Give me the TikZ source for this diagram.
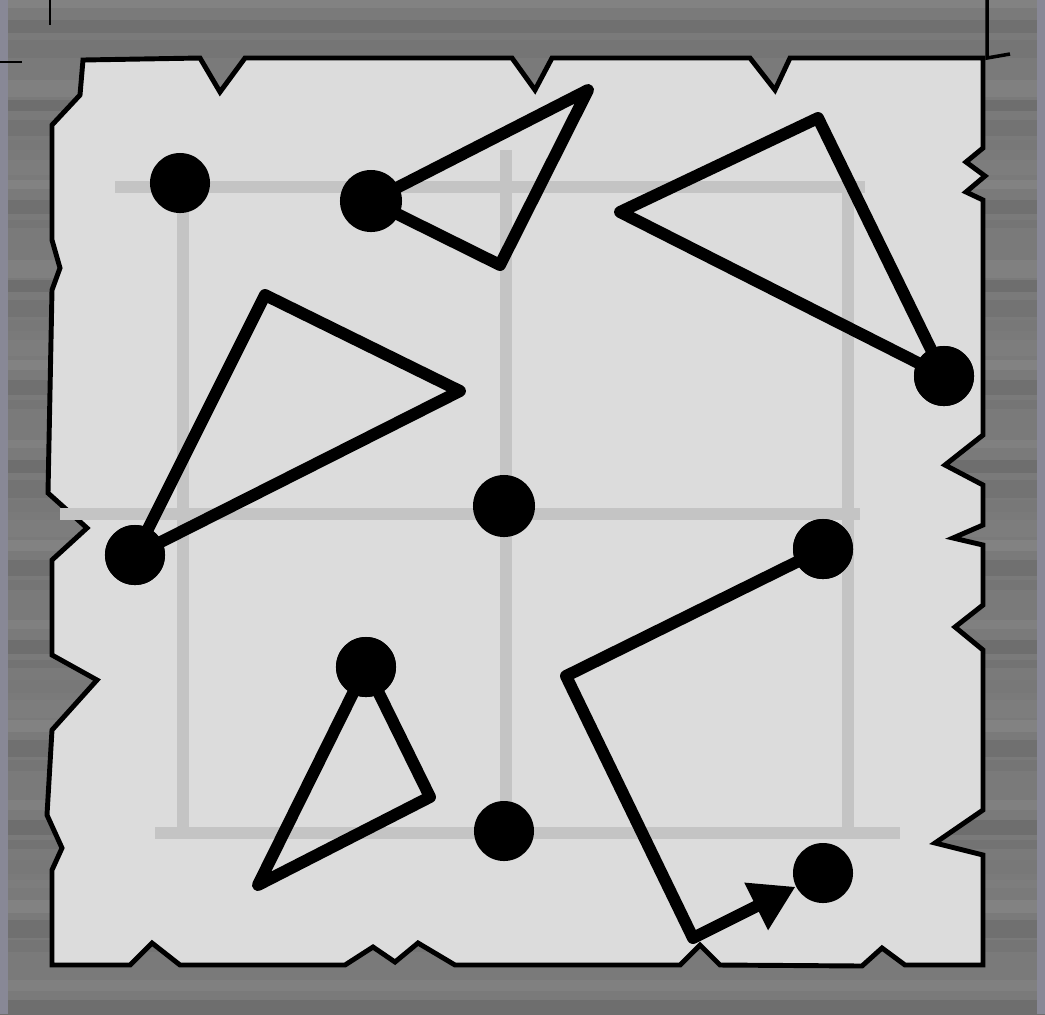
\documentclass[tikz,border=0pt]{standalone}
\usepackage{tikz}
\usetikzlibrary{arrows.meta, positioning, calc}
\usepackage{xcolor}

\definecolor{wood}{RGB}{122,122,122}
\definecolor{woodedge}{RGB}{136,136,150}
\definecolor{paper}{RGB}{220,220,220}
\definecolor{gridgray}{RGB}{196,196,196}

\tikzset{
    dot/.style={circle, fill=black, minimum size=0.6cm, inner sep=0pt},
    shapeline/.style={line width=3.4pt, line join=round, black},
    gridline/.style={line width=3.4pt, gridgray},
    tornedge/.style={fill=paper, draw=black, line width=1.4pt, line join=miter}
}

\begin{document}
\begin{tikzpicture}[x=0.01cm, y=-0.01cm]
        \useasboundingbox (0,0) rectangle (1045,1014);

        % Wood background
        \fill[wood] (0,0) rectangle (1045,1014);
        \foreach \i in {0,...,50} {
            \pgfmathtruncatemacro\s{49+mod(\i*7,9)}
            \pgfmathtruncatemacro\h{8+mod(\i*5,11)}
            \fill[black!\s] (0,\i*20) rectangle (1045,\i*20+\h);
        }
        \fill[woodedge] (0,0) rectangle (8,1014);
        \fill[woodedge] (1037,0) rectangle (1045,1014);
        \draw[black, line width=0.8pt] (50,0) -- (50,25);
        \draw[black, line width=0.8pt] (0,62) -- (22,62);
        \draw[black, line width=1pt] (987,0) -- (987,58) -- (1010,54);

        % Paper with torn edges
        \path[tornedge] (83,60) -- (200,58) -- (220,92) -- (245,58)
            -- (512,58) -- (535,90) -- (552,58)
            -- (750,58) -- (775,90) -- (790,58) -- (983,58)
            -- (983,148) -- (966,162) -- (985,176) -- (966,192) -- (983,200)
            -- (983,435) -- (945,465) -- (983,485)
            -- (983,525) -- (953,538) -- (983,545)
            -- (983,605) -- (955,627) -- (983,650)
            -- (983,810) -- (935,843) -- (983,855) -- (983,965)
            -- (905,965) -- (882,948) -- (862,966)
            -- (720,965) -- (700,945) -- (680,965)
            -- (455,965) -- (418,943) -- (395,962) -- (373,947) -- (345,965)
            -- (180,965) -- (152,943) -- (130,965) -- (52,965)
            -- (52,870) -- (62,848) -- (47,815)
            -- (52,730) -- (97,680) -- (52,655)
            -- (52,560) -- (87,528) -- (48,493)
            -- (52,290) -- (60,268) -- (52,240)
            -- (52,125) -- (80,95) -- cycle;

        % Grid
        \draw[gridline] (115,187) -- (865,187);
        \draw[gridline] (60,514) -- (860,514);
        \draw[gridline] (155,833) -- (900,833);
        \draw[gridline] (183,187) -- (183,830);
        \draw[gridline] (506,150) -- (506,830);
        \draw[gridline] (848,187) -- (848,830);

        % Dots
        \node[dot] (pa) at (180,183) {};
        \node[dot, minimum size=0.62cm] (pb) at (371,201) {};
        \node[dot] (pc) at (944,376) {};
        \node[dot, minimum size=0.62cm] (pd) at (504,506) {};
        \node[dot] (pe) at (135,555) {};
        \node[dot] (pf) at (823,549) {};
        \node[dot] (pg) at (366,667) {};
        \node[dot] (ph) at (504,831) {};
        \node[dot] (pk) at (823,873) {};

        % Free corners
        \coordinate (ta1) at (588,90);
        \coordinate (ta2) at (500,265);
        \coordinate (tb1) at (818,118);
        \coordinate (tb2) at (620,212);
        \coordinate (tc1) at (265,295);
        \coordinate (tc2) at (460,391);
        \coordinate (td1) at (430,797);
        \coordinate (td2) at (258,885);
        \coordinate (bend1) at (566,676);
        \coordinate (bend2) at (693,938);

        % Triangles
        \draw[shapeline] (pb.center) -- (ta1) -- (ta2) -- cycle;
        \draw[shapeline] (pc.center) -- (tb1) -- (tb2) -- cycle;
        \draw[shapeline] (pe.center) -- (tc1) -- (tc2) -- cycle;
        \draw[shapeline] (pg.center) -- (td1) -- (td2) -- cycle;

        % Path with arrow
        \draw[shapeline, -{Triangle[length=0.44cm, width=0.5cm]}]
            (pf.center) -- (bend1) -- (bend2) -- (pk);

        % Dots on top
        \foreach \p in {pb, pc, pe, pf, pg} {
            \fill[black] (\p) circle (0.3cm);
        }
    \end{tikzpicture}
\end{document}
